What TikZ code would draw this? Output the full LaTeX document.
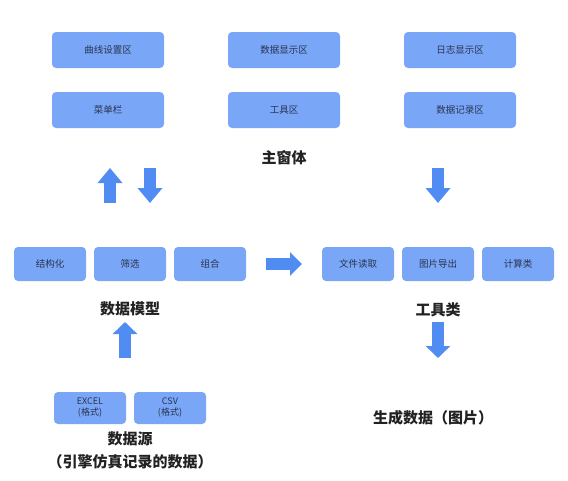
\documentclass[tikz,border=0pt]{standalone}
\usepackage{fontspec}
\setmainfont{Noto Sans CJK SC}
\usetikzlibrary{arrows.meta, positioning}
\definecolor{boxcolor}{RGB}{122,166,247}
\definecolor{arrowcolor}{RGB}{80,140,242}
\definecolor{textcolor}{RGB}{40,52,80}
\definecolor{titlecolor}{RGB}{34,34,34}

\begin{document}
\begin{tikzpicture}[x=1pt, y=-1pt,
    panelbox/.style={rectangle, fill=boxcolor, rounded corners=4pt, minimum width=112pt, minimum height=36pt, text=textcolor, font=\fontsize{9.5}{11}\selectfont},
    partbox/.style={rectangle, fill=boxcolor, rounded corners=4pt, minimum width=72pt, minimum height=34pt, text=textcolor, font=\fontsize{9.5}{11}\selectfont},
    srcbox/.style={partbox, minimum height=32pt, align=center, font=\fontsize{9}{11}\selectfont},
    title/.style={text=titlecolor, font=\fontsize{15}{19}\selectfont\bfseries, align=center},
    bigarrow/.style={arrowcolor, line width=12pt, -{Triangle[width=24pt, length=14pt]}}]
    \useasboundingbox (0,0) rectangle (568,480);

    % Main window
    \node[panelbox] (curve) at (108,50) {曲线设置区};
    \node[panelbox] (show) at (284,50) {数据显示区};
    \node[panelbox] (log) at (460,50) {日志显示区};
    \node[panelbox] (menu) at (108,110) {菜单栏};
    \node[panelbox] (tool) at (284,110) {工具区};
    \node[panelbox] (record) at (460,110) {数据记录区};
    \node[title] (mainwin) at (284,158) {主窗体};

    % Data model
    \node[partbox] (struct) at (50,264) {结构化};
    \node[partbox] (filter) at (130,264) {筛选};
    \node[partbox] (combine) at (210,264) {组合};
    \node[title] (model) at (130,309) {数据模型};

    % Tool classes
    \node[partbox] (fileread) at (358,264) {文件读取};
    \node[partbox] (imgexport) at (438,264) {图片导出};
    \node[partbox] (calc) at (518,264) {计算类};
    \node[title] (tools) at (438,310) {工具类};

    % Data source
    \node[srcbox] (excel) at (90,408) {EXCEL\\(格式)};
    \node[srcbox] (csv) at (170,408) {CSV\\(格式)};
    \node[title, font=\fontsize{15}{23}\selectfont\bfseries] (source) at (130,450) {数据源\\（引擎仿真记录的数据）};
    \node[title] (result) at (433,418) {生成数据（图片）};

    % Arrows
    \coordinate (upA) at (110,203);
    \coordinate (upB) at (110,168);
    \coordinate (downA) at (150,168);
    \coordinate (downB) at (150,203);
    \coordinate (toolA) at (438,168);
    \coordinate (toolB) at (438,203);
    \coordinate (rightA) at (266,264);
    \coordinate (rightB) at (302,264);
    \coordinate (srcA) at (125,358);
    \coordinate (srcB) at (125,322);
    \coordinate (outA) at (438,322);
    \coordinate (outB) at (438,358);
    \draw[bigarrow, -{Triangle[width=24pt, length=15pt]}] (upA) -- (upB);
    \draw[bigarrow, -{Triangle[width=24pt, length=15pt]}] (downA) -- (downB);
    \draw[bigarrow, -{Triangle[width=24pt, length=15pt]}] (toolA) -- (toolB);
    \draw[bigarrow, -{Triangle[width=23pt, length=12pt]}] (rightA) -- (rightB);
    \draw[bigarrow, -{Triangle[width=24pt, length=12pt]}] (srcA) -- (srcB);
    \draw[bigarrow, -{Triangle[width=24pt, length=12pt]}] (outA) -- (outB);

\end{tikzpicture}
\end{document}
